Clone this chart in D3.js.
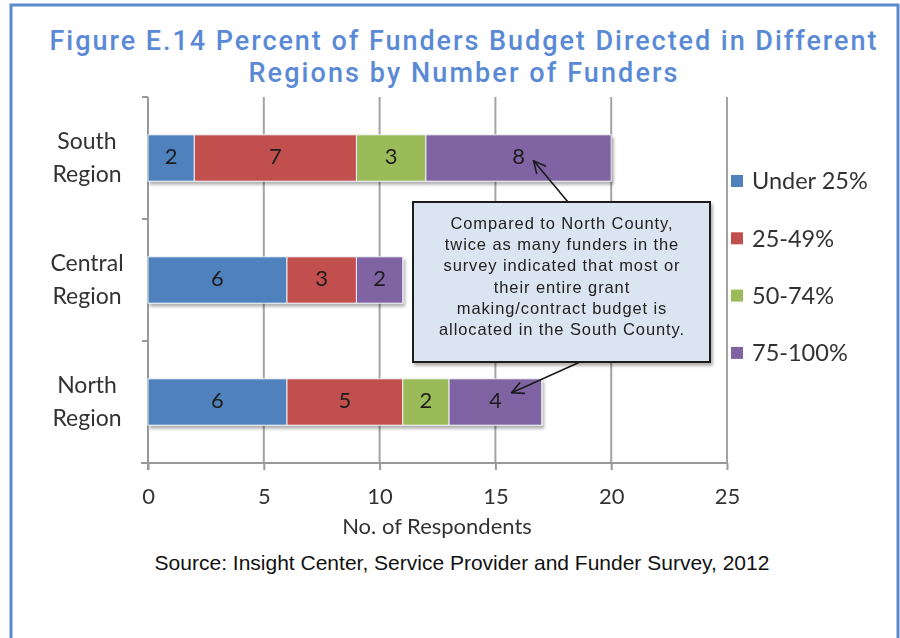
<!DOCTYPE html>
<html>
<head>
<meta charset="utf-8">
<script src="https://d3js.org/d3.v7.min.js"></script>
<style>
  html, body { margin: 0; padding: 0; background: #fff; }
  svg { display: block; }
</style>
</head>
<body>
<script>
// Regions, listed top to bottom
const regions = ["South Region", "Central Region", "North Region"];
// Budget share bands (series)
const bands = ["Under 25%", "25-49%", "50-74%", "75-100%"];
// Number of funders per region for each band
const under25 = [2, 6, 6];
const p25to49 = [7, 3, 5];
const p50to74 = [3, 0, 2];
const p75to100 = [8, 2, 4];
const bandColors = ["#4F81BD", "#C0504D", "#9BBB59", "#8064A2"];
const xTicks = [0, 5, 10, 15, 20, 25];

const titleLines = [
  "Figure E.14 Percent of Funders Budget Directed in Different",
  "Regions by Number of Funders"
];
const calloutLines = [
  "Compared to North County,",
  "twice as many funders in the",
  "survey indicated that most or",
  "their entire grant",
  "making/contract budget is",
  "allocated in the South County."
];
const sourceText = "Source: Insight Center, Service Provider and Funder Survey, 2012";

const W = 900, H = 638;
const svg = d3.select("body").append("svg").attr("width", W).attr("height", H);

const defs = svg.append("defs");
const sh = defs.append("filter").attr("id", "barShadow")
  .attr("x", "-5%").attr("y", "-20%").attr("width", "115%").attr("height", "160%");
sh.append("feDropShadow").attr("dx", 2).attr("dy", 3).attr("stdDeviation", 1.5)
  .attr("flood-color", "#000").attr("flood-opacity", 0.3);
const soft = defs.append("filter").attr("id", "soft");
soft.append("feGaussianBlur").attr("stdDeviation", 0.35);
const mk = defs.append("marker").attr("id", "arrowOpen")
  .attr("viewBox", "0 0 14 14").attr("refX", 13).attr("refY", 7)
  .attr("markerWidth", 14).attr("markerHeight", 14).attr("markerUnits", "userSpaceOnUse")
  .attr("orient", "auto");
mk.append("path").attr("d", "M1,1 L13,7 L1,13").attr("fill", "none")
  .attr("stroke", "#1a1a1a").attr("stroke-width", 1.6);

// Outer frame
svg.append("rect").attr("x", 11).attr("y", 5).attr("width", 887).attr("height", 700)
  .attr("fill", "none").attr("stroke", "#5b8bcf").attr("stroke-width", 3);

// Title
svg.selectAll("text.title").data(titleLines).join("text")
  .attr("class", "title")
  .attr("x", 463).attr("y", (d, i) => 50 + i * 32)
  .attr("text-anchor", "middle")
  .attr("font-family", "Roboto, 'Liberation Sans', sans-serif")
  .attr("font-weight", 500).attr("font-size", 27)
  .attr("fill", "#5a8ad6")
  .attr("textLength", (d, i) => i === 0 ? 827 : 429)
  .attr("lengthAdjust", "spacing")
  .text(d => d);

// Scales
const x = d3.scaleLinear().domain([0, 25]).range([148, 727]);
const y = d3.scaleBand().domain(regions).range([97, 463]).paddingInner(0.62).paddingOuter(0.31);
const yBand = d3.scaleBand().domain(regions).range([97, 463]);

const g = svg.append("g").attr("filter", "url(#soft)");

// Vertical gridlines
g.append("g").selectAll("line").data(xTicks).join("line")
  .attr("x1", d => x(d)).attr("x2", d => x(d))
  .attr("y1", 97).attr("y2", 463)
  .attr("stroke", "#a3a3a3").attr("stroke-width", 2);

// Bottom axis
const xAxis = g.append("g").attr("transform", "translate(0,463)")
  .call(d3.axisBottom(x).tickValues(xTicks).tickSize(7).tickPadding(18).tickSizeOuter(0));
xAxis.select(".domain").attr("stroke", "#999").attr("stroke-width", 2)
  .attr("d", `M${x(0) - 7},0H${x(25)}`);
xAxis.selectAll(".tick line").attr("stroke", "#999").attr("stroke-width", 2);
xAxis.selectAll(".tick text")
  .attr("font-family", "Lato, 'Open Sans', sans-serif").attr("font-size", 22)
  .attr("fill", "#333");

// Left axis with ticks at category boundaries
const yAxisG = g.append("g");
yAxisG.append("line").attr("x1", x(0)).attr("x2", x(0)).attr("y1", 97).attr("y2", 470)
  .attr("stroke", "#999").attr("stroke-width", 2);
const boundaries = regions.map(r => yBand(r));
yAxisG.selectAll("line.tk").data(boundaries).join("line").attr("class", "tk")
  .attr("x1", x(0) - 6).attr("x2", x(0)).attr("y1", d => d).attr("y2", d => d)
  .attr("stroke", "#999").attr("stroke-width", 2);

// Category labels (two lines each)
const catG = g.append("g").selectAll("text").data(regions).join("text")
  .attr("text-anchor", "middle")
  .attr("font-family", "Lato, 'Open Sans', sans-serif").attr("font-size", 23)
  .attr("fill", "#333");
catG.each(function(d) {
  const parts = d.split(" ");
  const cy = y(d) + y.bandwidth() / 2;
  d3.select(this).selectAll("tspan").data(parts).join("tspan")
    .attr("x", 87).attr("y", (p, i) => cy - 9 + i * 33)
    .text(p => p);
});

// Stacked bars
const table = regions.map((r, i) => ({
  region: r,
  "Under 25%": under25[i], "25-49%": p25to49[i], "50-74%": p50to74[i], "75-100%": p75to100[i]
}));
const stacked = d3.stack().keys(bands)(table);
const color = d3.scaleOrdinal().domain(bands).range(bandColors);

const barsG = g.append("g").attr("filter", "url(#barShadow)");
stacked.forEach(series => {
  barsG.append("g").selectAll("rect")
    .data(series.filter(s => s[1] - s[0] > 0)).join("rect")
    .attr("x", s => x(s[0])).attr("width", s => x(s[1]) - x(s[0]))
    .attr("y", s => y(s.data.region)).attr("height", y.bandwidth())
    .attr("fill", color(series.key))
    .attr("stroke", "#eef2f7").attr("stroke-width", 1);
});

// Value labels
const labG = g.append("g");
stacked.forEach(series => {
  labG.append("g").selectAll("text")
    .data(series.filter(s => s[1] - s[0] > 0)).join("text")
    .attr("x", s => (x(s[0]) + x(s[1])) / 2)
    .attr("y", s => y(s.data.region) + y.bandwidth() / 2 - 2)
    .attr("dy", "0.35em").attr("text-anchor", "middle")
    .attr("font-family", "Lato, 'Open Sans', sans-serif").attr("font-size", 22)
    .attr("fill", "#1e1e1e")
    .text(s => s[1] - s[0]);
});

// Axis title
g.append("text").attr("x", 437).attr("y", 526).attr("dy", "0.35em").attr("text-anchor", "middle")
  .attr("font-family", "Lato, 'Open Sans', sans-serif").attr("font-size", 22)
  .attr("fill", "#333").text("No. of Respondents");

// Legend
const leg = g.append("g").selectAll("g").data(bands).join("g")
  .attr("transform", (d, i) => `translate(731,${181 + i * 57.3})`);
leg.append("rect").attr("x", 0).attr("y", -6).attr("width", 12).attr("height", 12)
  .attr("fill", d => color(d));
leg.append("text").attr("x", 21).attr("dy", "0.35em")
  .attr("font-family", "Lato, 'Open Sans', sans-serif").attr("font-size", 23.5)
  .attr("fill", "#333").text(d => d);

// Callout arrows
const arrows = [
  { x1: 568, y1: 202, x2: x(16.65), y2: y("South Region") + 26 },
  { x1: 580, y1: 362, x2: x(15.7), y2: y("North Region") + 14 }
];
g.append("g").selectAll("line").data(arrows).join("line")
  .attr("x1", d => d.x1).attr("y1", d => d.y1).attr("x2", d => d.x2).attr("y2", d => d.y2)
  .attr("stroke", "#1a1a1a").attr("stroke-width", 1.6)
  .attr("marker-end", "url(#arrowOpen)");

// Callout box
g.append("rect").attr("x", 413).attr("y", 202).attr("width", 297).attr("height", 160)
  .attr("fill", "#dbe5f1").attr("stroke", "#1a1a1a").attr("stroke-width", 2)
  .attr("filter", "url(#barShadow)");
g.append("g").selectAll("text").data(calloutLines).join("text")
  .attr("x", 562).attr("y", (d, i) => 223 + i * 21.3)
  .attr("dy", "0.35em").attr("text-anchor", "middle")
  .attr("font-family", "'Liberation Sans', Arial, sans-serif").attr("font-size", 16.5)
  .attr("letter-spacing", 0.9)
  .attr("fill", "#222").text(d => d);

// Source note
svg.append("text").attr("x", 462).attr("y", 563).attr("dy", "0.35em")
  .attr("text-anchor", "middle")
  .attr("font-family", "'Liberation Sans', Arial, sans-serif").attr("font-size", 21)
  .attr("fill", "#111").text(sourceText);
</script>
</body>
</html>
